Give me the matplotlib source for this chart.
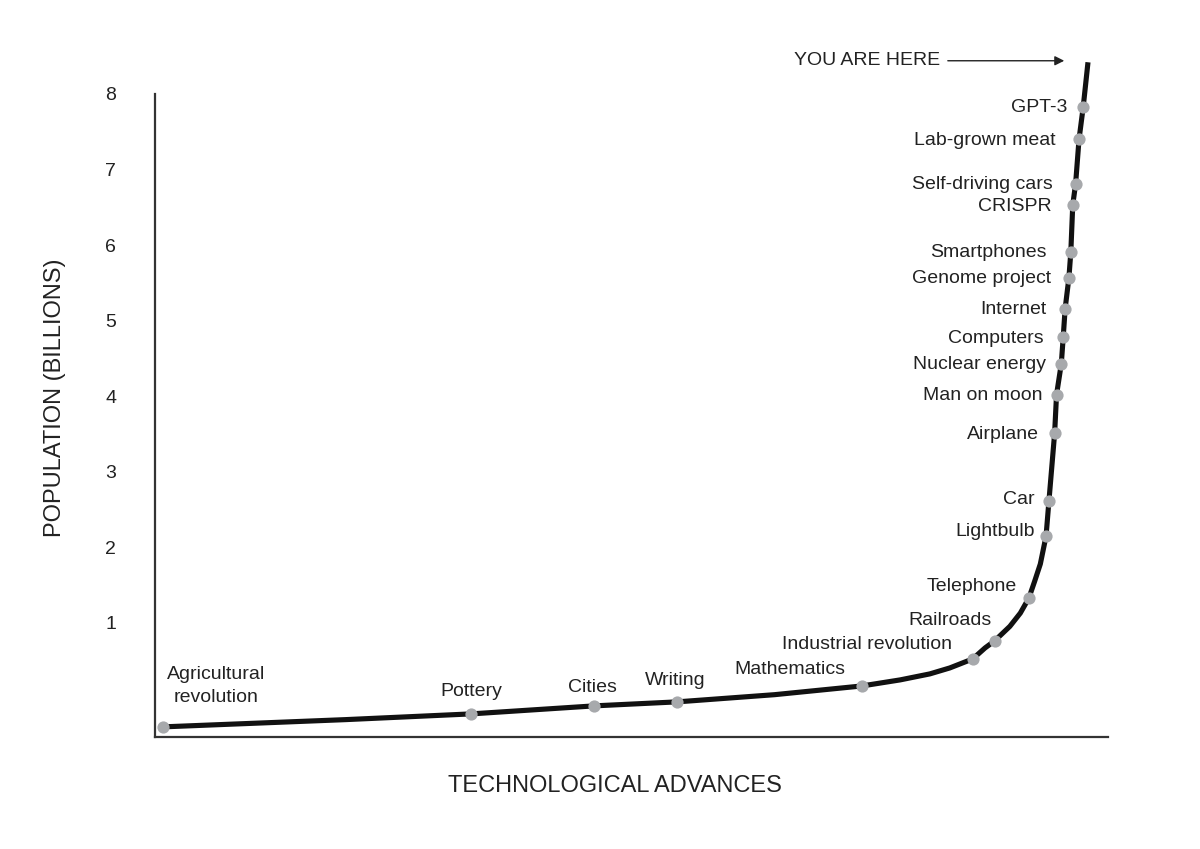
import matplotlib
matplotlib.use('Agg')
import matplotlib.pyplot as plt

plt.rcParams['font.family'] = ['Liberation Sans', 'DejaVu Sans']

# milestones along the curve (x = technological advance, y = population in billions)
milestones = ['Agricultural\nrevolution', 'Pottery', 'Cities', 'Writing', 'Mathematics',
              'Industrial revolution', 'Railroads', 'Telephone', 'Lightbulb', 'Car',
              'Airplane', 'Man on moon', 'Nuclear energy', 'Computers', 'Internet',
              'Genome project', 'Smartphones', 'CRISPR', 'Self-driving cars',
              'Lab-grown meat', 'GPT-3']
milestone_x = [0.84, 33.2, 46.1, 54.8, 74.2, 85.8, 88.1, 91.7, 93.5, 93.8,
               94.4, 94.6, 95.1, 95.3, 95.5, 95.9, 96.1, 96.3, 96.6, 96.96, 97.4]
milestone_y = [-0.376, -0.204, -0.098, -0.045, 0.166, 0.523, 0.762, 1.33, 2.15, 2.61,
               3.51, 4.02, 4.43, 4.78, 5.155, 5.57, 5.91, 6.53, 6.81, 7.40, 7.83]

# extra points read along the bend of the curve
bend_x = [20.0, 65.0, 78.2, 81.3, 83.4, 87.1, 89.7, 90.8, 92.3, 92.9, 97.9]
bend_y = [-0.28, 0.05, 0.246, 0.325, 0.404, 0.669, 0.954, 1.13, 1.55, 1.78, 8.42]

y_ticks = [1, 2, 3, 4, 5, 6, 7, 8]

curve = sorted(zip(milestone_x + bend_x, milestone_y + bend_y), key=lambda p: p[1])
curve_x = [p[0] for p in curve]
curve_y = [p[1] for p in curve]

# label offsets in pixels (dx, dy, ha)
offsets = [(53, 41, 'center'), (0, 22, 'center'), (-2, 18, 'center'), (-2, 21, 'center'),
           (-17, 16, 'right'), (-21, 14, 'right'), (-3, 20, 'right'), (-12, 11, 'right'),
           (-11, 5, 'right'), (-14, 2, 'right'), (-16, -1, 'right'), (-14, -1, 'right'),
           (-15, -1, 'right'), (-20, -1, 'right'), (-19, -1, 'right'), (-18, -1, 'right'),
           (-24, -1, 'right'), (-21, -1, 'right'), (-23, -1, 'right'), (-23, -1, 'right'),
           (-16, -1, 'right')]

fig = plt.figure(figsize=(12, 8.49), dpi=100)
ax = fig.add_axes([155/1200, 1-737/849, (1108-155)/1200, (737-94)/849])
ax.set_xlim(0, 100)
ax.set_ylim(-0.51, 8)

ax.plot(curve_x, curve_y, color='#111111', lw=3.7, solid_capstyle='butt',
        solid_joinstyle='round', clip_on=False, zorder=2)
ax.plot(milestone_x, milestone_y, 'o', color='#a7a9ac', ms=8.8, mec='none', clip_on=False, zorder=3)

for name, x, y, (dx, dy, ha) in zip(milestones, milestone_x, milestone_y, offsets):
    ax.annotate(name, (x, y), xytext=(dx, dy), textcoords='offset pixels',
                ha=ha, va='center', fontsize=14, color='#222222', linespacing=1.45)

# you are here
ax.annotate('', xy=(95.7, 8.44), xytext=(82.9, 8.44),
            arrowprops=dict(arrowstyle='-|>', color='#222222', lw=1, mutation_scale=14),
            annotation_clip=False)
ax.text(82.4, 8.44, 'YOU ARE HERE', ha='right', va='center', fontsize=14, color='#222222')

ax.set_xticks([])
ax.set_yticks(y_ticks)
ax.set_yticklabels([str(t) for t in y_ticks], fontsize=14, color='#222222')
ax.tick_params(axis='y', length=0, pad=28)
for s in ['top', 'right']:
    ax.spines[s].set_visible(False)
for s in ['left', 'bottom']:
    ax.spines[s].set_linewidth(1.6)
    ax.spines[s].set_color('#333333')

fig.text(615/1200, 1-786/849, 'TECHNOLOGICAL ADVANCES', ha='center', va='center',
         fontsize=17, color='#222222')
fig.text(55/1200, 1-398/849, 'POPULATION (BILLIONS)', ha='center', va='center',
         rotation=90, fontsize=17, color='#222222')

fig.savefig('out.png', dpi=100, facecolor='white')
